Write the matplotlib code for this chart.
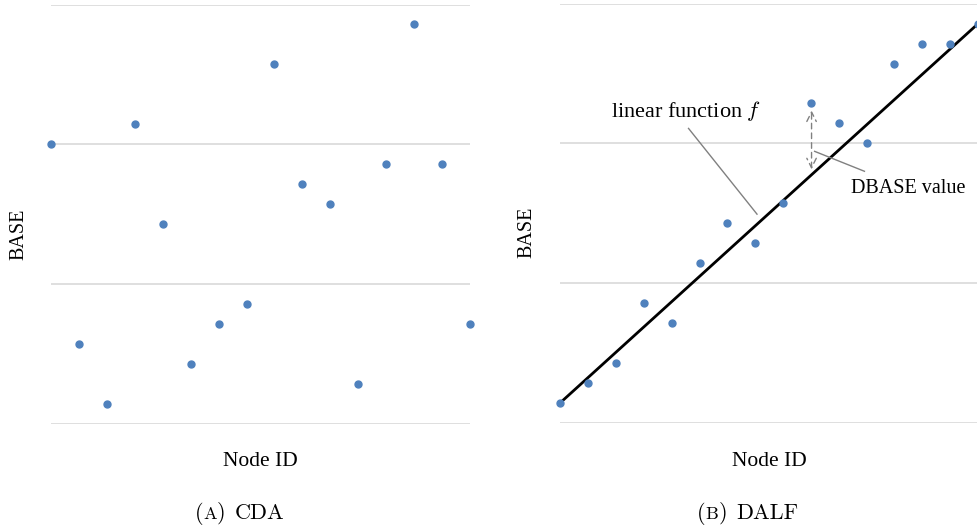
import numpy as np
import matplotlib
matplotlib.use("Agg")
import matplotlib.pyplot as plt

plt.rcParams["mathtext.fontset"] = "cm"

# node ids and BASE values
node_ids = list(range(1, 17))
cda_base = [14, 4, 1, 15, 10, 3, 5, 6, 18, 12, 11, 2, 13, 20, 13, 5]
dalf_base = [1, 2, 3, 6, 5, 8, 10, 9, 11, 16, 15, 14, 18, 19, 19, 20]
line_x = [1, 16]
line_y = [1, 20]
grid_ticks = [0, 7, 14, 21]

blue = "#4F81BD"
grid_col = "#D9D9D9"
label_font = "Liberation Serif"

fig = plt.figure(figsize=(9.78, 5.29), dpi=100)
W, H = 978, 529

def px_axes(l, t, r, b):
    return fig.add_axes([l / W, 1 - b / H, (r - l) / W, (b - t) / H])

ax1 = px_axes(51, 4.5, 470, 424)
ax2 = px_axes(560.5, 3.8, 978, 422.5)

for ax in (ax1, ax2):
    ax.set_xlim(1, 16)
    ax.set_ylim(0, 21)
    ax.set_yticks(grid_ticks)
    ax.set_xticks([])
    ax.yaxis.grid(True, color=grid_col, lw=1.2)
    ax.set_axisbelow(True)
    ax.tick_params(left=False, labelleft=False)
    for s in ax.spines.values():
        s.set_visible(False)

ax1.plot(node_ids, cda_base, "o", color=blue, ms=5, clip_on=False, zorder=3)

ax2.plot(line_x, line_y, color="black", lw=2, zorder=2, clip_on=False)
ax2.plot(node_ids, dalf_base, "o", color=blue, ms=5, clip_on=False, zorder=3)

# annotations
ax2.annotate("", xy=(10.02, 15.65), xytext=(10.02, 12.7),
             arrowprops=dict(arrowstyle="<->", color="#808080", lw=1,
                             linestyle=(0, (4, 3)), mutation_scale=17,
                             shrinkA=0, shrinkB=0))
ax2.plot([5.6, 8.06], [14.75, 10.45], color="#808080", lw=1)
ax2.plot([10.13, 11.92], [13.6, 12.6], color="#808080", lw=1)
ax2.text(5.5, 15.6, "linear function $f$", ha="center", va="center",
         fontsize=16, family=label_font)
ax2.text(13.48, 11.75, "DBASE value", ha="center", va="center",
         fontsize=14.5, family=label_font)

# axis labels
fig.text(18.5 / W, 1 - 234 / H, "BASE", rotation=90, ha="center", va="center",
         fontsize=14.5, family=label_font)
fig.text(527 / W, 1 - 232 / H, "BASE", rotation=90, ha="center", va="center",
         fontsize=14.5, family=label_font)
fig.text(260 / W, 1 - 461 / H, "Node ID", ha="center", va="center",
         fontsize=15.5, family=label_font)
fig.text(769 / W, 1 - 461 / H, "Node ID", ha="center", va="center",
         fontsize=15.5, family=label_font)

# sub captions with small caps letter
renderer = fig.canvas.get_renderer()

def caption(x_left, y, letter, name):
    parts = [("(", 16, 0), (letter, 13, 0), (")", 16, 0), (name, 16, 9)]
    x = x_left
    for txt, size, gap in parts:
        x += gap
        t = fig.text(x / W, 1 - y / H, txt, ha="left", va="baseline",
                     fontsize=size, family="cmr10")
        bb = t.get_window_extent(renderer)
        x += bb.width

caption(195, 519, "A", "CDA")
caption(697, 519, "B", "DALF")

fig.savefig("out.png", dpi=100)
